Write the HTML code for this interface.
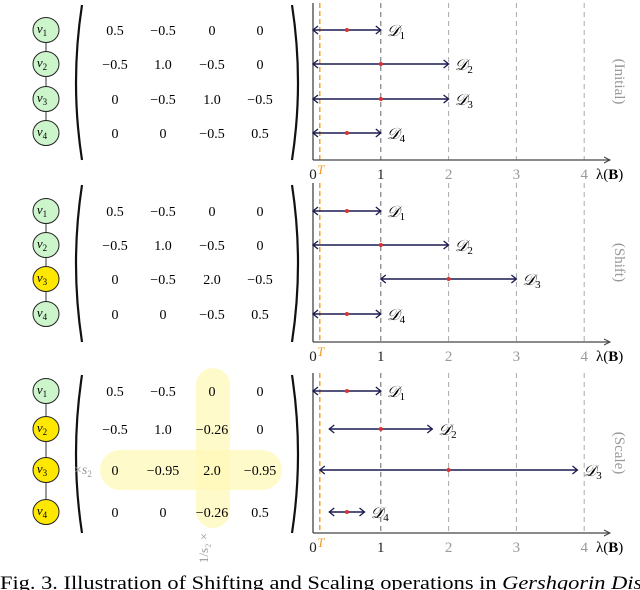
<!DOCTYPE html>
<html><head><meta charset="utf-8">
<style>
body{margin:0;background:#fff;width:640px;height:590px;overflow:hidden}
svg{display:block;font-family:"Liberation Serif",serif}
</style></head>
<body>
<svg id="fig" width="640" height="590" viewBox="0 0 640 590">
 <g id="left"></g>
 <g id="right"></g>
 <text x="0" y="0" font-size="19" transform="translate(0 589) scale(1.18 1)">Fig. 3.  Illustration of Shifting and Scaling operations in <tspan font-style="italic">Gershgorin Disk</tspan></text>
</svg>
<script>
// ---- data ----
const panelNames = ["(Initial)", "(Shift)", "(Scale)"];
const diskLabels = ["1", "2", "3", "4"];
const centersP1 = [0.5, 1.0, 1.0, 0.5];
const radiiP1 = [0.5, 1.0, 1.0, 0.5];
const centersP2 = [0.5, 1.0, 2.0, 0.5];
const radiiP2 = [0.5, 1.0, 1.0, 0.5];
const centersP3 = [0.5, 1.0, 2.0, 0.5];
const radiiP3 = [0.5, 0.76, 1.9, 0.26];
const xTicks = [0, 1, 2, 3, 4];
const thresholdT = 0.1;
const matP1 = [["0.5","\u22120.5","0","0"],["\u22120.5","1.0","\u22120.5","0"],["0","\u22120.5","1.0","\u22120.5"],["0","0","\u22120.5","0.5"]];
const matP2 = [["0.5","\u22120.5","0","0"],["\u22120.5","1.0","\u22120.5","0"],["0","\u22120.5","2.0","\u22120.5"],["0","0","\u22120.5","0.5"]];
const matP3 = [["0.5","\u22120.5","0","0"],["\u22120.5","1.0","\u22120.26","0"],["0","\u22120.95","2.0","\u22120.95"],["0","0","\u22120.26","0.5"]];
const nodeYellowP1 = [false,false,false,false];
const nodeYellowP2 = [false,false,true,false];
const nodeYellowP3 = [false,true,true,true];

const NS="http://www.w3.org/2000/svg";
function mk(tag,attrs,parent,txt){const e=document.createElementNS(NS,tag);for(const k in attrs)e.setAttribute(k,attrs[k]);if(txt!==undefined)e.textContent=txt;parent.appendChild(e);return e;}
const X0=313, SX=67.8;
const xs=v=>X0+v*SX;
const panels=[
 {rows:[30,64,99,133],axisY:160,top:3,c:centersP1,r:radiiP1,m:matP1,y:nodeYellowP1},
 {rows:[211,245,279,314],axisY:342,top:183,c:centersP2,r:radiiP2,m:matP2,y:nodeYellowP2},
 {rows:[391,429,470,512],axisY:533,top:373,c:centersP3,r:radiiP3,m:matP3,y:nodeYellowP3}
];
const L=document.getElementById('left'), R=document.getElementById('right');
const colX=[115,163,212,260];

const h1=mk('rect',{x:196,y:368,width:34,height:160,rx:17,fill:'#fff8b8',opacity:0.75},L);


const h2=mk('rect',{x:100,y:450,width:182,height:40,rx:20,fill:'#fff8b8',opacity:0.75},L);



panels.forEach((p,pi)=>{
 const g=mk('g',{},L);
 
 
 mk('line',{x1:46,x2:46,y1:p.rows[0],y2:p.rows[3],stroke:'#333','stroke-width':1},g);
 p.rows.forEach((ry,i)=>{
  const c=mk('ellipse',{cx:46,cy:ry,rx:13,ry:12.5,fill:p.y[i]?'#ffe800':'#ccf5cc',stroke:'#222','stroke-width':1},g);
  
  
  const t=mk('text',{x:42,y:ry+3,'font-size':13,'font-style':'italic','text-anchor':'middle'},g,'v');
  mk('tspan',{'font-size':9,dy:3,'font-style':'normal'},t,String(i+1));
 });
 const yt=p.top+2, yb=p.axisY;
 mk('path',{d:`M82 ${yt} Q70 ${(yt+yb)/2} 82 ${yb}`,fill:'none',stroke:'#111','stroke-width':2.2},g);
 mk('path',{d:`M292 ${yt} Q304 ${(yt+yb)/2} 292 ${yb}`,fill:'none',stroke:'#111','stroke-width':2.2},g);
 p.m.forEach((row,i)=>row.forEach((v,j)=>{
  const t=mk('text',{x:colX[j],y:p.rows[i]+5,'font-size':14,'text-anchor':'middle'},g,v);
  
  
 }));

 const cg=mk('g',{},R);
 
 
 xTicks.forEach(v=>{ if(v>0){
  const gl=mk('line',{x1:xs(v),x2:xs(v),y1:p.top,y2:p.axisY,stroke:v===1?'#666':'#aaa','stroke-width':1,'stroke-dasharray':'5,4'},cg);
  
 }
  const tl=mk('text',{x:xs(v),y:p.axisY+19,'font-size':15,'text-anchor':'middle',fill:v<=1?'#222':'#999'},cg,String(v));
  
  
 });
 mk('line',{x1:xs(thresholdT),x2:xs(thresholdT),y1:p.top,y2:p.axisY,stroke:'#f5a030','stroke-width':1.5,'stroke-dasharray':'5,3'},cg);
 mk('text',{x:xs(thresholdT)+1,y:p.axisY+14,'font-size':13,'font-style':'italic',fill:'#f39a20','text-anchor':'middle'},cg,'T');
 mk('line',{x1:X0,x2:X0,y1:p.top,y2:p.axisY,stroke:'#444','stroke-width':1.3},cg);
 mk('line',{x1:X0,x2:610,y1:p.axisY,y2:p.axisY,stroke:'#444','stroke-width':1.3},cg);
 mk('path',{d:`M604 ${p.axisY-3} L610 ${p.axisY} L604 ${p.axisY+3}`,fill:'none',stroke:'#444','stroke-width':1},cg);
 const xl=mk('text',{x:596,y:p.axisY+19,'font-size':15},cg,'\u03bb(');
 mk('tspan',{'font-weight':'bold'},xl,'B');
 mk('tspan',{},xl,')');
 
 const pn=mk('text',{x:0,y:0,'font-size':15,fill:'#999','text-anchor':'middle',transform:`translate(615 ${(p.top+p.axisY)/2}) rotate(90)`},cg,panelNames[pi]);
 
 
 p.c.forEach((c,i)=>{
  const y=p.rows[i], a=xs(c-p.r[i]), b=xs(c+p.r[i]);
  const dl=mk('line',{x1:a,x2:b,y1:y,y2:y,stroke:'#1a1a50','stroke-width':1.6},cg);
  
  
  mk('path',{d:`M${a+5} ${y-4} L${a} ${y} L${a+5} ${y+4}`,fill:'none',stroke:'#1a1a50','stroke-width':1.3},cg);
  mk('path',{d:`M${b-5} ${y-4} L${b} ${y} L${b-5} ${y+4}`,fill:'none',stroke:'#1a1a50','stroke-width':1.3},cg);
  const dot=mk('circle',{cx:xs(c),cy:y,r:2,fill:'#e03030'},cg);
  
  const lt=mk('text',{x:b+6,y:y+6,'font-size':16,'font-style':'italic'},cg,'\ud835\udc9f');
  mk('tspan',{'font-size':11,dy:3,'font-style':'normal'},lt,diskLabels[i]);
  
  
 });
});
const s1=mk('text',{x:74,y:474,'font-size':14,fill:'#999'},L,'\u00d7');
mk('tspan',{'font-style':'italic'},s1,'s');
mk('tspan',{'font-size':9,dy:3},s1,'2');

const s2=mk('text',{x:0,y:0,'font-size':13,fill:'#999','text-anchor':'middle',transform:'translate(208 548) rotate(-90)'},L,'1/s\u2082 \u00d7');

</script>
</body></html>
